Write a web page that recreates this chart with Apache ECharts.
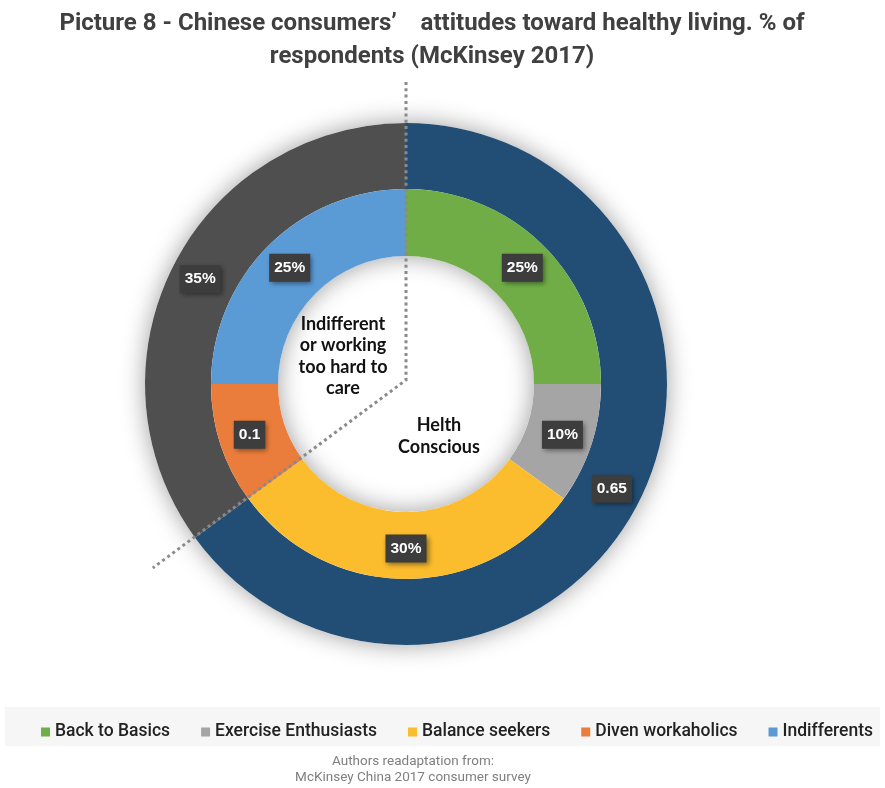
<!DOCTYPE html>
<html>
<head>
<meta charset="utf-8">
<script src="https://cdn.jsdelivr.net/npm/echarts@6/dist/echarts.min.js"></script>
<style>
  html, body { margin: 0; padding: 0; background: #ffffff; }
  #chart { width: 885px; height: 788px; }
</style>
</head>
<body>
<div id="chart"></div>
<script>
// Inner ring: consumer segments (share of respondents)
const segmentNames = ['Back to Basics', 'Exercise Enthusiasts', 'Balance seekers', 'Diven workaholics', 'Indifferents'];
const segmentValues = [0.25, 0.10, 0.30, 0.10, 0.25];
const segmentLabelFormats = ['percent', 'percent', 'percent', 'decimal', 'percent'];

// Outer ring: overall attitude groups
const groupNames = ['Helth Conscious', 'Indifferent or working too hard to care'];
const groupValues = [0.65, 0.35];
const groupLabelFormats = ['decimal', 'percent'];

const segmentColors = ['#70ad47', '#a5a5a5', '#fbbd2d', '#eb7d3c', '#5b9bd5'];
const groupColors = ['#224e76', '#4f4f4f'];

const TITLE = 'Picture 8 - Chinese consumers\u2019    attitudes toward healthy living. % of\nrespondents (McKinsey 2017)';
const SOURCE = 'Authors readaptation from:\nMcKinsey China 2017 consumer survey';

const CX = 406, CY = 384;
const R_HOLE = 128, R_MID = 195, R_OUT = 261;

const textFont = 'Roboto, sans-serif';

function fmt(v, kind) {
  return kind === 'percent' ? Math.round(v * 100) + '%' : String(v);
}

const labelBox = {
  show: true,
  position: 'inside',
  color: '#ffffff',
  fontFamily: '"Liberation Sans", Arial, sans-serif',
  fontWeight: 'bold',
  fontSize: 15.5,
  backgroundColor: '#3d3d3d',
  padding: [6, 5, 6, 5],
  shadowColor: 'rgba(0,0,0,0.45)',
  shadowBlur: 5,
  shadowOffsetX: 2,
  shadowOffsetY: 2
};

// Dotted divider that follows the boundary between the two attitude groups
const splitFrac = groupValues[0] / groupValues.reduce((a, b) => a + b, 0);
const splitAng = splitFrac * 2 * Math.PI;
const dividerLen = 313;
const dividerPts = [
  [CX, 82],
  [CX, CY - 4],
  [CX + dividerLen * Math.sin(splitAng), CY - dividerLen * Math.cos(splitAng)]
];

const chart = echarts.init(document.getElementById('chart'), null, { renderer: 'canvas' });

chart.setOption({
  backgroundColor: '#ffffff',
  animation: false,
  color: segmentColors,
  legend: {
    data: segmentNames,
    left: 36,
    top: 718,
    width: 845,
    icon: 'rect',
    itemWidth: 9,
    itemHeight: 9,
    itemGap: 31,
    selectedMode: false,
    textStyle: { fontFamily: textFont, fontSize: 17.5, fontWeight: 500, color: '#222222', padding: [0, 0, 0, 0] }
  },
  graphic: [
    // soft shadow behind both rings
    {
      type: 'ring', z: 0, silent: true,
      shape: { cx: CX, cy: CY, r: R_OUT, r0: R_HOLE },
      style: { fill: '#ffffff', shadowBlur: 24, shadowColor: 'rgba(0,0,0,0.38)' }
    },
    // legend band
    {
      type: 'rect', z: 0, silent: true,
      shape: { x: 5, y: 707, width: 875, height: 39 },
      style: { fill: '#f6f6f6' }
    },
    {
      type: 'text', z: 10,
      x: 432, y: 40,
      style: {
        text: TITLE, align: 'center', verticalAlign: 'middle',
        fontFamily: textFont, fontSize: 24, fontWeight: 'bold', lineHeight: 33,
        fill: '#404040'
      }
    },
    {
      type: 'polyline', z: 10, silent: true,
      shape: { points: dividerPts },
      style: { stroke: '#8a8a8a', lineWidth: 3, lineDash: [3, 3.3], fill: null }
    },
    {
      type: 'text', z: 10,
      x: 343, y: 356,
      style: {
        text: 'Indifferent\nor working\ntoo hard to\ncare', align: 'center', verticalAlign: 'middle',
        fontFamily: 'Lato, sans-serif', fontSize: 18, fontWeight: 'bold', lineHeight: 21.5,
        fill: '#111111'
      }
    },
    {
      type: 'text', z: 10,
      x: 439, y: 436,
      style: {
        text: 'Helth\nConscious', align: 'center', verticalAlign: 'middle',
        fontFamily: 'Lato, sans-serif', fontSize: 18, fontWeight: 'bold', lineHeight: 21.5,
        fill: '#111111'
      }
    },
    {
      type: 'text', z: 10,
      x: 413, y: 770,
      style: {
        text: SOURCE, align: 'center', verticalAlign: 'middle',
        fontFamily: textFont, fontSize: 13.5, lineHeight: 16,
        fill: '#7f7f7f'
      }
    }
  ],
  series: [
    {
      name: 'Attitude',
      type: 'pie',
      z: 2,
      center: [CX, CY],
      radius: [R_MID, R_OUT],
      startAngle: 90,
      clockwise: true,
      silent: true,
      labelLine: { show: false },
      label: Object.assign({}, labelBox, {
        formatter: p => fmt(p.value, groupLabelFormats[p.dataIndex])
      }),
      data: groupNames.map((n, i) => ({ name: n, value: groupValues[i], itemStyle: { color: groupColors[i] } }))
    },
    {
      name: 'Segment',
      type: 'pie',
      z: 2,
      center: [CX, CY],
      radius: [R_HOLE, R_MID],
      startAngle: 90,
      clockwise: true,
      silent: true,
      labelLine: { show: false },
      label: Object.assign({}, labelBox, {
        formatter: p => fmt(p.value, segmentLabelFormats[p.dataIndex])
      }),
      data: segmentNames.map((n, i) => ({ name: n, value: segmentValues[i], itemStyle: { color: segmentColors[i] } }))
    }
  ]
});
</script>
</body>
</html>
